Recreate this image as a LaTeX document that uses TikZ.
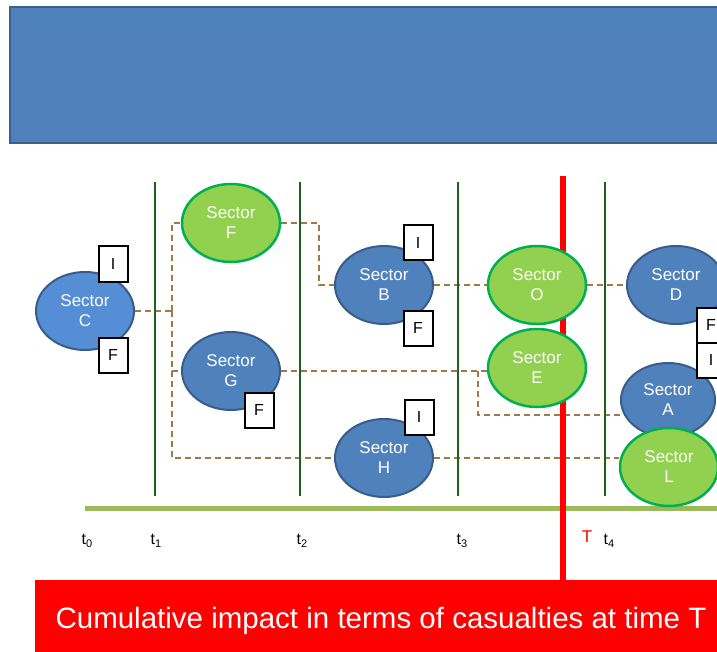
\documentclass[tikz,border=0pt]{standalone}
\usepackage{fontspec}
\setmainfont{Liberation Sans}
\usetikzlibrary{shapes.geometric,backgrounds}
\usepackage{xcolor}

\definecolor{secblue}{HTML}{4F81BD}
\definecolor{secblueC}{HTML}{558ED5}
\definecolor{secedge}{HTML}{385D8A}
\definecolor{headedge}{HTML}{3B5F8C}
\definecolor{secgreen}{HTML}{92D050}
\definecolor{secgreenedge}{HTML}{00B050}
\definecolor{linkbrown}{HTML}{9C7A4C}
\definecolor{tlgreen}{HTML}{1F5F1F}
\definecolor{basegreen}{HTML}{9BBB59}

\newcommand{\tsub}[2]{#1\raisebox{-2.5pt}{\fontsize{11}{11}\selectfont #2}}

\tikzset{
    sector/.style={ellipse, draw, line width=2pt, minimum width=98pt, minimum height=78pt,
        inner sep=0pt, text=white, align=center, font=\fontsize{17}{20}\selectfont},
    bluesec/.style={sector, fill=secblue, draw=secedge},
    greensec/.style={sector, fill=secgreen, draw=secgreenedge, line width=2.5pt},
    flagbox/.style={draw=black, fill=white, line width=2pt, minimum width=29pt,
        minimum height=35pt, inner sep=0pt, font=\fontsize{16}{16}\selectfont},
    linkline/.style={draw=linkbrown, line width=1.8pt, dash pattern=on 6pt off 4pt},
    tline/.style={draw=tlgreen, line width=2.5pt},
    tlabel/.style={font=\fontsize{16}{16}\selectfont}
}

\begin{document}
\begin{tikzpicture}[x=1pt,y=-1pt]
        \useasboundingbox (0,0) rectangle (717,652);
        \clip (0,0) rectangle (717,652);

        % header panel
        \path[fill=secblue, draw=headedge, line width=2pt] (10,7) rectangle (740,143);

        % sectors
        \node[sector, fill=secblueC, draw=secedge] (C) at (85,311) {Sector\\C};
        \node[greensec] (F) at (231,223) {Sector\\F};
        \node[bluesec] (G) at (231,371) {Sector\\G};
        \node[bluesec] (B) at (384,285) {Sector\\B};
        \node[bluesec] (H) at (384,458) {Sector\\H};
        \node[greensec] (O) at (537,285) {Sector\\O};
        \node[greensec] (E) at (537,368) {Sector\\E};
        \node[bluesec] (D) at (676,285) {Sector\\D};
        \node[bluesec, minimum width=94pt, minimum height=74pt] (A) at (668,400) {Sector\\A};
        \node[greensec] (L) at (669,467) {Sector\\L};

        % I / F flags
        \node[flagbox] (Ci) at (113,264) {I};
        \node[flagbox] (Cf) at (113,355) {F};
        \node[flagbox] (Gf) at (259,410) {F};
        \node[flagbox] (Bi) at (418,243) {I};
        \node[flagbox] (Bf) at (418,328) {F};
        \node[flagbox] (Hi) at (419,417) {I};
        \node[flagbox] (Df) at (711,325) {F};
        \node[flagbox] (Di) at (711,360) {I};

        % time labels
        \node[tlabel] (t0) at (87,541) {\tsub{t}{0}};
        \node[tlabel] (t1) at (156,541) {\tsub{t}{1}};
        \node[tlabel] (t2) at (302,541) {\tsub{t}{2}};
        \node[tlabel] (t3) at (462,541) {\tsub{t}{3}};
        \node[tlabel] (t4) at (609,541) {\tsub{t}{4}};
        \node[tlabel, text=red, font=\fontsize{17}{17}\selectfont] (T) at (587,537) {T};

        \begin{scope}[on background layer]
            % dependencies
            \coordinate (split) at (172,311);
            \coordinate (fork) at (478,371);
            \draw[linkline] (C.east) -- (split);
            \draw[linkline] (split) |- (F.west);
            \draw[linkline] (split) |- (G.west);
            \draw[linkline] (split) |- (H.west);
            \draw[linkline] (F.east) -- ++(38,0) |- (B.west);
            \draw[linkline] (B.east) -- (O.west);
            \draw[linkline] (O.east) -- (D.west);
            \draw[linkline] (G.east) -- (G.east -| E.west);
            \draw[linkline] (fork) |- (A.199);
            \draw[linkline] (H.east) -- (H.east -| L.west);

            \foreach \x in {155,300,458,605}{
                \draw[tline] (\x,182) -- (\x,496);
            }
            \draw[basegreen, line width=5pt] (85,508) -- (717,508);
            \draw[red, line width=6pt] (563,176) -- (563,582);
        \end{scope}

        % bottom panel
        \path[fill=red] (35,580) rectangle (740,660);
        \node[text=white, font=\fontsize{29.5}{31}\selectfont] (impact) at (381,621) {Cumulative impact in terms of casualties at time T};
    \end{tikzpicture}
\end{document}
